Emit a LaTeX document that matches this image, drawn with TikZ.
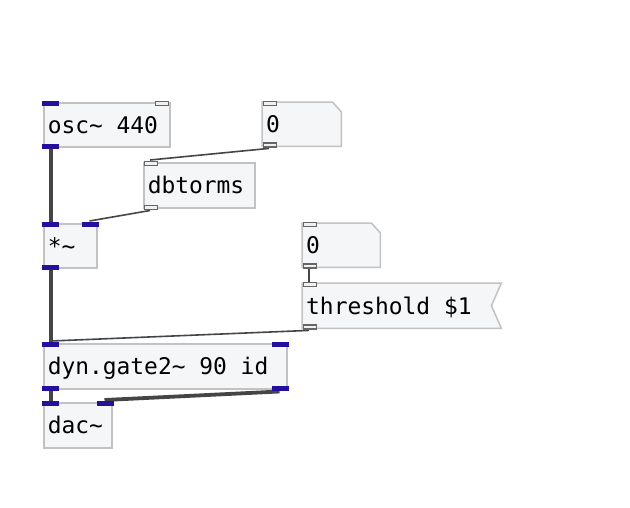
\documentclass[tikz,border=0pt]{standalone}
\usepackage{fontspec}
\setmonofont{DejaVu Sans Mono}
\definecolor{boxfill}{HTML}{F5F6F8}
\definecolor{boxline}{HTML}{C2C2C2}
\definecolor{sigport}{RGB}{36,16,156}
\definecolor{ctlline}{HTML}{666666}
\definecolor{wire}{HTML}{454545}
\tikzset{
  pdbox/.style={rectangle, anchor=north west, inner sep=0pt, inner xsep=4pt,
    text height=17pt, text depth=0pt,
    font=\ttfamily\fontsize{22.9}{27}\selectfont},
  boxed/.style={draw=boxline, fill=boxfill, line width=1.5pt},
  sig/.style={fill=sigport},
  ctl/.style={draw=ctlline, fill=white!94!black, line width=1.5pt},
  sigwire/.style={draw=wire, line width=3.8pt},
  ctlwire/.style={draw=wire, line width=1.6pt},
}
\begin{document}
\begin{tikzpicture}[x=1pt,y=-1pt]
\useasboundingbox (0,0) rectangle (630,507);
% objects
\node[pdbox,boxed,minimum height=44pt] (osc) at (43,102) {\makebox[118pt][l]{osc\char126\ 440}};
\node[pdbox,boxed,minimum height=45pt] (dbt) at (143,162) {\makebox[103pt][l]{dbtorms}};
\node[pdbox,boxed,minimum height=44pt] (mul) at (43,223) {\makebox[45pt][l]{*\char126}};
\node[pdbox,boxed,minimum height=45pt] (gate) at (43,343) {\makebox[235pt][l]{dyn.gate2\char126\ 90 id}};
\node[pdbox,boxed,minimum height=45pt] (dac) at (43,402) {\makebox[60pt][l]{dac\char126}};
% number boxes
\node[pdbox,minimum height=44pt] (numa) at (262,102) {\makebox[71pt][l]{}};
\draw[boxed] (numa.north west) -- ([xshift=-9pt]numa.north east) -- ([yshift=-10pt]numa.north east) -- (numa.south east) -- (numa.south west) -- cycle;
\node[pdbox,minimum height=44pt] (numatxt) at (262,102) {\makebox[71pt][l]{0}};
\node[pdbox,minimum height=44pt] (numb) at (302,223) {\makebox[70pt][l]{}};
\draw[boxed] (numb.north west) -- ([xshift=-9pt]numb.north east) -- ([yshift=-10pt]numb.north east) -- (numb.south east) -- (numb.south west) -- cycle;
\node[pdbox,minimum height=44pt] (numbtxt) at (302,223) {\makebox[70pt][l]{0}};
% message box
\node[pdbox,minimum height=45pt] (thr) at (302,283) {\makebox[191pt][l]{}};
\draw[boxed] (thr.north west) -- (thr.north east) -- ([xshift=-10pt]thr.east) -- (thr.south east) -- (thr.south west) -- cycle;
\node[pdbox,minimum height=45pt] (thrtxt) at (302,283) {\makebox[191pt][l]{threshold \$1}};
% connections
\draw[sigwire] ([xshift=8pt]osc.south west) -- ([xshift=8pt]mul.north west);
\draw[ctlwire] ([xshift=7pt,yshift=-2pt]numa.south west) -- ([xshift=7pt,yshift=2pt]dbt.north west);
\draw[ctlwire] ([xshift=7pt,yshift=-2pt]dbt.south west) -- ([xshift=-8pt,yshift=2pt]mul.north east);
\draw[sigwire] ([xshift=8pt]mul.south west) -- ([xshift=8pt]gate.north west);
\draw[ctlwire] ([xshift=7pt]numb.south west) -- ([xshift=7pt]thr.north west);
\draw[ctlwire] ([xshift=7pt,yshift=-2pt]thr.south west) -- ([xshift=8pt,yshift=2pt]gate.north west);
\draw[sigwire] ([xshift=8pt]gate.south west) -- ([xshift=8pt]dac.north west);
\draw[sigwire] ([xshift=-8pt,yshift=-2pt]gate.south east) -- ([xshift=-8pt,yshift=2pt]dac.north east);
% signal ports
\fill[sig] ([xshift=-1pt,yshift=1pt]osc.north west) rectangle ++(17,5);
\fill[sig] ([xshift=-1pt,yshift=-1pt]osc.south west) rectangle ++(17,-5);
\fill[sig] ([xshift=-1pt,yshift=1pt]mul.north west) rectangle ++(17,5);
\fill[sig] ([xshift=1pt,yshift=1pt]mul.north east) rectangle ++(-17,5);
\fill[sig] ([xshift=-1pt,yshift=-1pt]mul.south west) rectangle ++(17,-5);
\fill[sig] ([xshift=-1pt,yshift=1pt]gate.north west) rectangle ++(17,5);
\fill[sig] ([xshift=1pt,yshift=1pt]gate.north east) rectangle ++(-17,5);
\fill[sig] ([xshift=-1pt,yshift=-1pt]gate.south west) rectangle ++(17,-5);
\fill[sig] ([xshift=1pt,yshift=-1pt]gate.south east) rectangle ++(-17,-5);
\fill[sig] ([xshift=-1pt,yshift=1pt]dac.north west) rectangle ++(17,5);
\fill[sig] ([xshift=1pt,yshift=1pt]dac.north east) rectangle ++(-17,5);
% control ports
\draw[ctl] ([xshift=-2pt,yshift=0.75pt]osc.north east) rectangle ++(-13,4);
\draw[ctl] ([xshift=1.5pt,yshift=0.75pt]numa.north west) rectangle ++(13,4);
\draw[ctl] ([xshift=1.5pt,yshift=-0.75pt]numa.south west) rectangle ++(13,-4);
\draw[ctl] ([xshift=1.5pt,yshift=0.75pt]dbt.north west) rectangle ++(13,4);
\draw[ctl] ([xshift=1.5pt,yshift=-0.75pt]dbt.south west) rectangle ++(13,-4);
\draw[ctl] ([xshift=1.5pt,yshift=0.75pt]numb.north west) rectangle ++(13,4);
\draw[ctl] ([xshift=1.5pt,yshift=-0.75pt]numb.south west) rectangle ++(13,-4);
\draw[ctl] ([xshift=1.5pt,yshift=0.75pt]thr.north west) rectangle ++(13,4);
\draw[ctl] ([xshift=1.5pt,yshift=-0.75pt]thr.south west) rectangle ++(13,-4);
\end{tikzpicture}
\end{document}
